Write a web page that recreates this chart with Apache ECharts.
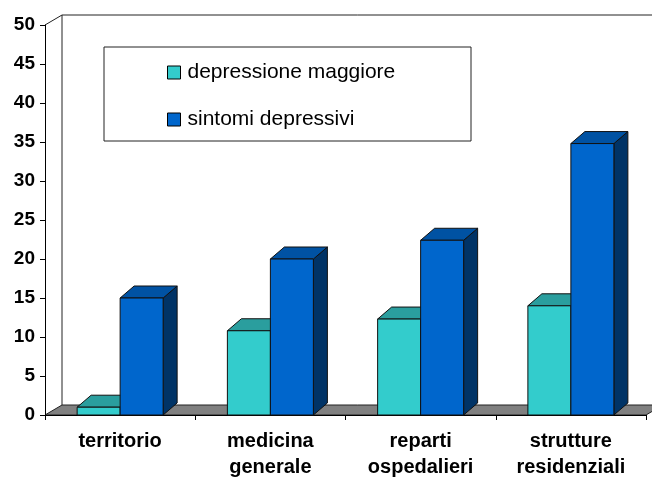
<!DOCTYPE html>
<html><head><meta charset="utf-8">
<script src="https://cdn.jsdelivr.net/npm/echarts@6/dist/echarts.min.js"></script>
<style>html,body{margin:0;padding:0;background:#fff}#c{width:652px;height:480px}</style>
</head><body><div id="c"></div>
<script>
var categories = ['territorio', 'medicina\ngenerale', 'reparti\nospedalieri', 'strutture\nresidenziali'];
var depressioneMaggiore = [1, 10.8, 12.3, 14];
var sintomiDepressivi = [15, 20, 22.4, 34.8];
var seriesNames = ['depressione maggiore', 'sintomi depressivi'];
var yMin = 0, yMax = 50, yInterval = 5;

var W = 652, H = 480;
var GRID = {left: 45, right: 6, top: 25, bottom: 65};
var BW = 43, DX = 14, DY = 12;
var FDX = 17, FDY = 10;
var FONT = '"Liberation Sans", Arial, sans-serif';

var palettes = [
  {front: '#33CCCC', top: '#2A9E9E', side: '#1F7878'},
  {front: '#0066CC', top: '#0052A3', side: '#003366'}
];

function render(k) {
  return function (params, api) {
    var i = api.value(0), v = api.value(1);
    var p = api.coord([i, v]);
    var b = api.coord([i, 0]);
    var x0 = k === 0 ? p[0] - BW : p[0];
    var x1 = x0 + BW;
    var yT = p[1], yB = b[1];
    var c = palettes[k];
    function st(fill) { return {fill: fill, stroke: '#111', lineWidth: 1, lineJoin: 'round'}; }
    return {type: 'group', children: [
      {type: 'polygon', shape: {points: [[x1, yB], [x1 + DX, yB - DY], [x1 + DX, yT - DY], [x1, yT]]}, style: st(c.side)},
      {type: 'polygon', shape: {points: [[x0, yT], [x0 + DX, yT - DY], [x1 + DX, yT - DY], [x1, yT]]}, style: st(c.top)},
      {type: 'rect', shape: {x: x0, y: yT, width: BW, height: yB - yT}, style: st(c.front)}
    ]};
  };
}

var x0 = GRID.left, x1 = W - GRID.right, yB = H - GRID.bottom, yT = GRID.top;

var chart = echarts.init(document.getElementById('c'), null, {renderer: 'canvas'});
chart.setOption({
  backgroundColor: '#fff',
  animation: false,
  grid: {left: GRID.left, right: GRID.right, top: GRID.top, bottom: GRID.bottom},
  xAxis: {
    type: 'category', data: categories,
    axisLine: {lineStyle: {color: '#000', width: 1}},
    axisTick: {show: true, length: 5, lineStyle: {color: '#000'}},
    axisLabel: {fontFamily: FONT, fontSize: 20, fontWeight: 'bold', color: '#000', lineHeight: 26, margin: 13, interval: 0}
  },
  yAxis: {
    type: 'value', min: yMin, max: yMax, interval: yInterval,
    axisLine: {show: true, lineStyle: {color: '#000', width: 1}},
    axisTick: {show: true, length: 5, lineStyle: {color: '#000'}},
    splitLine: {show: false},
    axisLabel: {fontFamily: FONT, fontSize: 19, fontWeight: 'bold', color: '#000', margin: 10}
  },
  legend: {
    left: 162, top: 57, orient: 'vertical', itemWidth: 13, itemHeight: 13, itemGap: 26,
    textStyle: {fontFamily: FONT, fontSize: 21, color: '#000', padding: [0, 0, 0, 2]},
    data: [
      {name: seriesNames[0], icon: 'rect', itemStyle: {color: palettes[0].front, borderColor: '#000', borderWidth: 1}},
      {name: seriesNames[1], icon: 'rect', itemStyle: {color: palettes[1].front, borderColor: '#000', borderWidth: 1}}
    ]
  },
  graphic: [
    {type: 'polygon', z: 0, shape: {points: [[x0, yB], [x1, yB], [x1 + FDX, yB - FDY], [x0 + FDX, yB - FDY]]},
     style: {fill: '#808080', stroke: '#222', lineWidth: 1}},
    {type: 'polyline', z: 0, shape: {points: [[x0, yT], [x0 + FDX, yT - FDY], [W + 5, yT - FDY]]},
     style: {stroke: '#222', lineWidth: 1, fill: null}},
    {type: 'line', z: 0, shape: {x1: x0 + FDX, y1: yT - FDY, x2: x0 + FDX, y2: yB - FDY},
     style: {stroke: '#222', lineWidth: 1}},
    {type: 'rect', z: 1, shape: {x: 104, y: 47, width: 367, height: 94},
     style: {fill: '#fff', stroke: '#222', lineWidth: 1}}
  ],
  series: [
    {name: seriesNames[0], type: 'custom', z: 3, renderItem: render(0), encode: {x: 0, y: 1},
     itemStyle: {color: palettes[0].front},
     data: depressioneMaggiore.map(function (v, i) { return [i, v]; })},
    {name: seriesNames[1], type: 'custom', z: 4, renderItem: render(1), encode: {x: 0, y: 1},
     itemStyle: {color: palettes[1].front},
     data: sintomiDepressivi.map(function (v, i) { return [i, v]; })}
  ]
});
</script></body></html>
